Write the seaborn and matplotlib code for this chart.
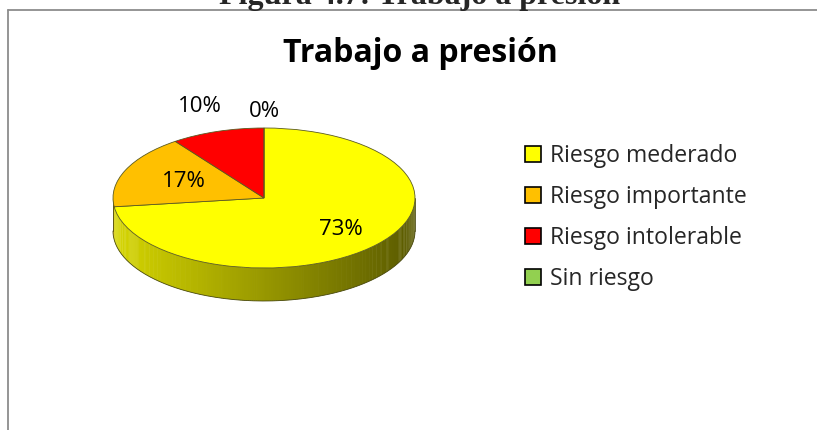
import matplotlib
matplotlib.use('Agg')
import matplotlib.pyplot as plt
import seaborn as sns
import numpy as np
from matplotlib.patches import Patch, Polygon
from matplotlib.lines import Line2D
from matplotlib.colors import to_rgb

# ---- data ----
categories = ['Riesgo mederado', 'Riesgo importante', 'Riesgo intolerable', 'Sin riesgo']
values = [73, 17, 10, 0]
pct_labels = ['73%', '17%', '10%', '0%']
colors = ['#FFFF00', '#FFC000', '#FF0000', '#92D050']
chart_title = 'Trabajo a presión'
figure_caption = 'Figura 4.7: Trabajo a presión'

sns.set_theme(style='white')
plt.rcParams['font.family'] = ['Open Sans', 'DejaVu Sans']

W, H = 817, 430
fig = plt.figure(figsize=(W / 100, H / 100), dpi=100)
fig.patch.set_facecolor('white')

# pie geometry in pixels
cx, cy, a, b = 264, 198, 151, 70
depth = 33 / b
xl, xr = -1.3, 1.3
yb, yt = -1.9, 1.3
left_px, right_px = cx + xl * a, cx + xr * a
top_px, bot_px = cy - yt * b, cy - yb * b
ax = fig.add_axes([left_px / W, 1 - bot_px / H, (right_px - left_px) / W, (bot_px - top_px) / H])

wedges, _ = ax.pie(values, colors=colors, startangle=90, counterclock=False,
                   wedgeprops=dict(edgecolor='#5a5a20', linewidth=0.6, zorder=3))
ax.set_aspect('auto')
ax.set_xlim(xl, xr)
ax.set_ylim(yb, yt)
ax.axis('off')

# 3D side
def wedge_at(tdeg):
    for w, c in zip(wedges, colors):
        for t in (tdeg, tdeg - 360, tdeg + 360):
            if w.theta1 <= t <= w.theta2 and w.theta2 > w.theta1:
                return c
    return colors[0]

N = 240
ts = np.linspace(180, 360, N + 1)
for t1, t2 in zip(ts[:-1], ts[1:]):
    tm = 0.5 * (t1 + t2)
    base = np.array(to_rgb(wedge_at(tm - 360)))
    xm = np.cos(np.radians(tm))
    shade = 0.84 - 0.49 * (xm + 1) / 2
    col = np.clip(base * shade, 0, 1)
    r1, r2 = np.radians(t1), np.radians(t2 + 0.3)
    poly = [(np.cos(r1), np.sin(r1)), (np.cos(r2), np.sin(r2)),
            (np.cos(r2), np.sin(r2) - depth), (np.cos(r1), np.sin(r1) - depth)]
    ax.add_patch(Polygon(poly, closed=True, facecolor=col, edgecolor='none', zorder=1))
tt = np.radians(np.linspace(180, 360, 200))
ax.plot(np.cos(tt), np.sin(tt) - depth, color='#4a4a10', lw=0.6, zorder=2)
ax.plot([-1, -1], [0, -depth], color='#4a4a10', lw=0.6, zorder=2)
ax.plot([1, 1], [0, -depth], color='#4a4a10', lw=0.6, zorder=2)

# percentage labels
label_r = [0.68, 0.58, 1.38, 1.24]
for w, lab, r in zip(wedges, pct_labels, label_r):
    th = np.radians(0.5 * (w.theta1 + w.theta2))
    ax.text(r * np.cos(th), r * np.sin(th), lab, ha='center', va='center',
            fontsize=16, color='black', zorder=5)

# legend
handles = [Patch(facecolor=c, edgecolor='black', linewidth=1.2) for c in colors]
fig.legend(handles, categories, loc='upper left', bbox_to_anchor=(525 / W, 1 - 144 / H),
           frameon=False, fontsize=16.6, handlelength=0.7, handleheight=0.7,
           handletextpad=0.4, labelspacing=0.74, borderaxespad=0, borderpad=0)

# titles
fig.text(420 / W, 1 - 54 / H, chart_title, ha='center', va='center',
         fontsize=23, fontweight='bold', color='black')
fig.text(420 / W, 1 - 4 / H, figure_caption, ha='center', va='baseline',
         fontsize=23, fontweight='bold', family=['Liberation Serif', 'DejaVu Serif'])

# chart border (top and left visible)
fig.add_artist(Line2D([7.5 / W, 1], [1 - 9.5 / H, 1 - 9.5 / H], color='#8c8c8c', lw=1.3))
fig.add_artist(Line2D([7.5 / W, 7.5 / W], [1 - 9.5 / H, 0], color='#8c8c8c', lw=1.3))

fig.savefig('out.png', dpi=100, facecolor='white')
